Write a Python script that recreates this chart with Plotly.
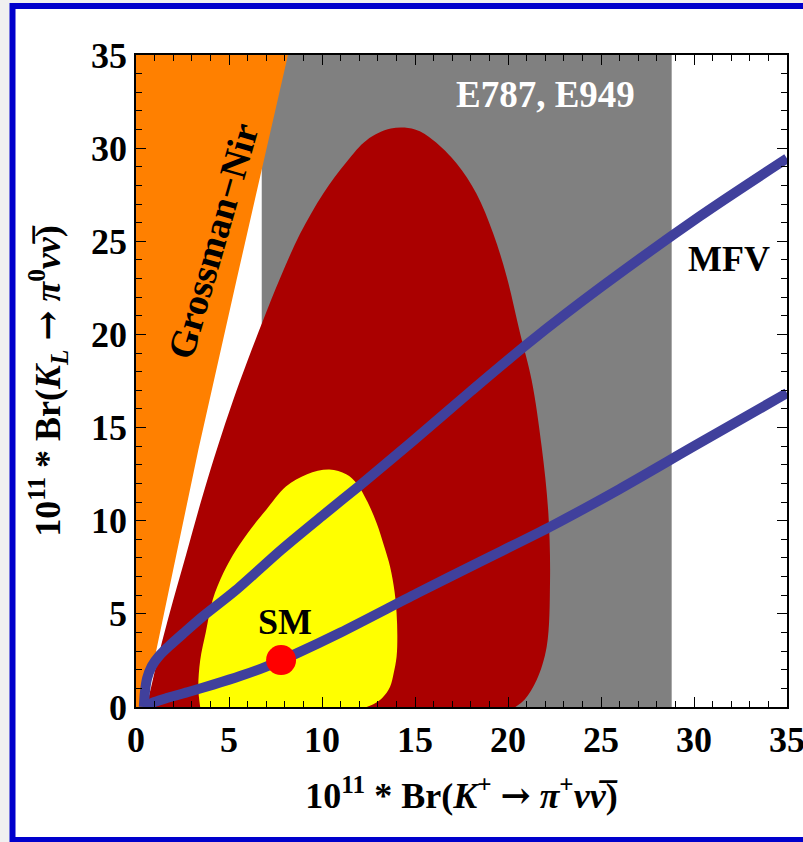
import plotly.graph_objects as go

# Grossman-Nir bound (left edge of the allowed region)
gn_x = [0.45, 0.72, 3.35, 5.40, 8.17]
gn_y = [0.0, 1.27, 13.8, 22.9, 35.0]

# E787/E949 experimental band in Br(K+ -> pi+ nu nubar)
e949_x = [6.76, 28.8]

# general new-physics region (dark red)
np_x = [0.55, 0.75, 1.10, 1.80, 2.70, 3.60, 4.40, 5.20, 6.00, 6.85, 7.74, 8.82, 10.07,
        11.33, 12.40, 13.70, 15.00, 15.98, 17.24, 18.30, 19.20, 19.93, 20.65, 21.27,
        21.81, 22.17, 22.26, 22.08, 21.54, 20.90, 20.40]
np_y = [0.0, 0.8, 2.3, 5.0, 8.2, 11.4, 14.0, 16.4, 18.6, 20.8, 23.0, 25.4, 27.57,
        29.27, 30.43, 31.05, 31.0, 30.43, 29.18, 27.57, 25.43, 23.1, 20.06, 17.55,
        13.97, 10.4, 6.82, 3.24, 1.45, 0.4, 0.0]

# restricted region (yellow)
yl_x = [3.45, 3.35, 3.45, 3.75, 4.12, 4.70, 5.38, 6.20, 6.99, 8.06, 9.20, 10.40, 11.30,
        11.87, 12.45, 12.94, 13.35, 13.66, 13.90, 14.01, 14.05, 14.01, 13.85, 13.66,
        13.25, 12.76, 12.40]
yl_y = [0.0, 1.0, 2.5, 4.0, 5.74, 7.2, 8.43, 9.6, 10.57, 11.83, 12.5, 12.75, 12.5,
        12.0, 11.0, 9.86, 8.6, 7.53, 6.2, 5.03, 3.8, 2.7, 1.8, 1.09,
        0.5, 0.15, 0.0]

# MFV branches
mfv_up_x = [0.42, 0.48, 0.60, 0.85, 1.25, 1.79, 2.60, 3.58, 5.38, 7.80, 10.0, 12.04,
            14.91, 18.0, 21.18, 24.95, 30.32, 35.0]
mfv_up_y = [0.0, 0.8, 1.55, 2.2, 2.75, 3.28, 4.0, 4.85, 6.28, 8.43, 10.25, 11.9,
            14.3, 16.95, 19.6, 22.5, 26.35, 29.45]
mfv_lo_x = [0.42, 1.0, 1.65, 2.9, 4.15, 5.6, 7.0, 8.64, 11.0, 15.1, 18.5, 22.26, 26.0, 30.0, 35.0]
mfv_lo_y = [0.0, 0.27, 0.48, 0.83, 1.2, 1.66, 2.17, 2.88, 4.0, 6.1, 7.8, 9.67, 11.7, 14.0, 16.85]

# Standard Model point
sm_x = [7.8]
sm_y = [2.52]

SERIF = "Liberation Serif"

fig = go.Figure()

fig.add_trace(go.Scatter(
    x=[e949_x[0], e949_x[1], e949_x[1], e949_x[0]], y=[0, 0, 35, 35],
    fill="toself", fillcolor="#808080", mode="none", hoverinfo="skip"))

fig.add_trace(go.Scatter(x=np_x, y=np_y, fill="toself", fillcolor="#aa0000",
                         mode="lines", line=dict(width=0, shape="spline", smoothing=1.0),
                         hoverinfo="skip"))

fig.add_trace(go.Scatter(x=yl_x, y=yl_y, fill="toself", fillcolor="#ffff00",
                         mode="lines", line=dict(width=0, shape="spline", smoothing=1.0),
                         hoverinfo="skip"))

fig.add_trace(go.Scatter(x=[0] + gn_x + [0], y=[0] + gn_y + [35],
                         fill="toself", fillcolor="#ff8000", mode="none", hoverinfo="skip"))

for xs, ys in ((mfv_up_x, mfv_up_y), (mfv_lo_x, mfv_lo_y)):
    fig.add_trace(go.Scatter(x=xs, y=ys, mode="lines",
                             line=dict(color="#40409c", width=10, shape="spline", smoothing=0.8),
                             hoverinfo="skip"))

fig.add_trace(go.Scatter(x=sm_x, y=sm_y, mode="markers",
                         marker=dict(color="#ff0000", size=30, line=dict(width=0)),
                         hoverinfo="skip"))

lab_font = dict(family=SERIF, size=36, color="black", weight="bold")

fig.add_annotation(x=8.0, y=4.56, text="SM", showarrow=False, font=lab_font)
fig.add_annotation(x=31.9, y=24.05, text="MFV", showarrow=False, font=lab_font)
fig.add_annotation(x=22.0, y=32.9, text="E787, E949", showarrow=False,
                   font=dict(family=SERIF, size=37, color="white", weight="bold"))
fig.add_annotation(x=4.15, y=25.0, text="Grossman\u2212Nir", showarrow=False,
                   textangle=-74, font=dict(family=SERIF, size=38, color="black", weight="bold"))

axis_common = dict(
    range=[0, 35], dtick=5, tick0=0, ticks="inside", ticklen=10, tickwidth=1,
    tickcolor="black", showline=True, linecolor="black", linewidth=1.5,
    mirror="ticks", showgrid=False, zeroline=False, layer="above traces",
    ticklabeloverflow="allow",
    tickfont=dict(family=SERIF, size=36, color="black", weight="bold"),
    minor=dict(dtick=1, ticks="inside", ticklen=6, tickwidth=1, tickcolor="black",
               showgrid=False),
)

arrow = "<span style='font-family:DejaVu Serif'>\u2192</span>"

fig.update_xaxes(**axis_common,
                 title=dict(text="<b>10<sup>11</sup> * Br(<i>K</i><sup>+</sup> " + arrow + " "
                                 "<i>\u03c0</i><sup>+</sup><i>\u03bd\u03bd\u0305</i>)</b>",
                            font=dict(family=SERIF, size=36, color="black"), standoff=24))
fig.update_yaxes(**axis_common,
                 title=dict(text="<b>10<sup>11</sup> * Br(<i>K</i><sub><i>L</i></sub> " + arrow + " "
                                 "<i>\u03c0</i><sup>0</sup><i>\u03bd\u03bd\u0305</i>)</b>",
                            font=dict(family=SERIF, size=36, color="black"), standoff=19))

L, R, T, B = 136, 16, 55, 135
W, H = 803, 842
pw, ph = W - L - R, H - T - B


def px_x(p):
    return (p - L) / pw


def px_y(p):
    return (H - B - p) / ph


fig.update_layout(
    width=W, height=H, margin=dict(l=L, r=R, t=T, b=B, autoexpand=False),
    paper_bgcolor="white", plot_bgcolor="white", showlegend=False,
    shapes=[
        dict(type="rect", xref="paper", yref="paper", x0=px_x(0), x1=px_x(10),
             y0=px_y(H), y1=px_y(0), fillcolor="#f0f0f0", line=dict(width=0), layer="below"),
        dict(type="rect", xref="paper", yref="paper", x0=px_x(0), x1=px_x(W),
             y0=px_y(3), y1=px_y(0), fillcolor="#f0f0f0", line=dict(width=0), layer="below"),
        dict(type="rect", xref="paper", yref="paper", x0=px_x(12.5), x1=px_x(W + 10),
             y0=px_y(840), y1=px_y(6), fillcolor="rgba(0,0,0,0)",
             line=dict(color="#0000cc", width=6), layer="above"),
    ],
)

fig.write_html("out.html")
